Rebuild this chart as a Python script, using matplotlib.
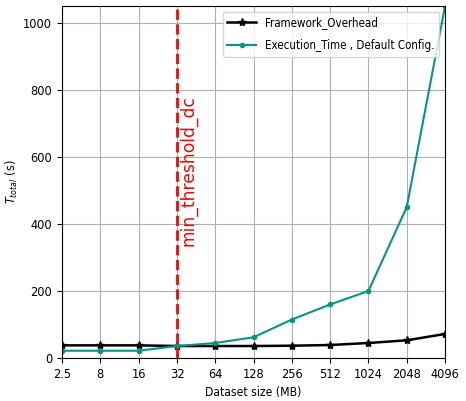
import matplotlib
matplotlib.use("Agg")
import matplotlib.pyplot as plt

plt.rcParams['font.stretch'] = 'condensed'

sizes = ['2.5', '8', '16', '32', '64', '128', '256', '512', '1024', '2048', '4096']
framework_overhead = [38, 38, 38, 36, 36, 36, 37, 39, 45, 53, 72]
execution_time = [22, 22, 22, 36, 45, 62, 115, 160, 200, 450, 1050]
threshold_idx = 3

x = list(range(len(sizes)))

fig = plt.figure(figsize=(4.66, 4.01), dpi=100)
ax = fig.add_axes([0.133, 0.107, 0.822, 0.878])

ax.plot(x, framework_overhead, color='black', marker='*', markersize=6,
        linewidth=1.8, label='Framework_Overhead')
ax.plot(x, execution_time, color='#009980', marker='.', markersize=6,
        linewidth=1.5, label='Execution_Time , Default Config.')
ax.axvline(threshold_idx, color='red', linestyle='--', linewidth=2)
ax.text(threshold_idx + 0.07, 335, 'min_threshold_dc', color='red',
        rotation=90, fontsize=12.3, fontstretch='normal',
        ha='left', va='bottom')

ax.set_xticks(x)
ax.set_xticklabels(sizes)
ax.set_xlim(0, len(sizes) - 1)
ax.set_ylim(0, 1050)
ax.set_yticks([0, 200, 400, 600, 800, 1000])
ax.grid(True, color='#b0b0b0', linewidth=0.8)
ax.set_xlabel('Dataset size (MB)', fontsize=8.7)
ax.set_ylabel('$T_{total}$ (s)', fontsize=9)
ax.yaxis.set_label_coords(-0.11, 0.5)
ax.tick_params(labelsize=9.2)
ax.legend(loc='upper right', fontsize=8.3, handlelength=2.5, labelspacing=0.85)

fig.savefig('out.png', dpi=100)
